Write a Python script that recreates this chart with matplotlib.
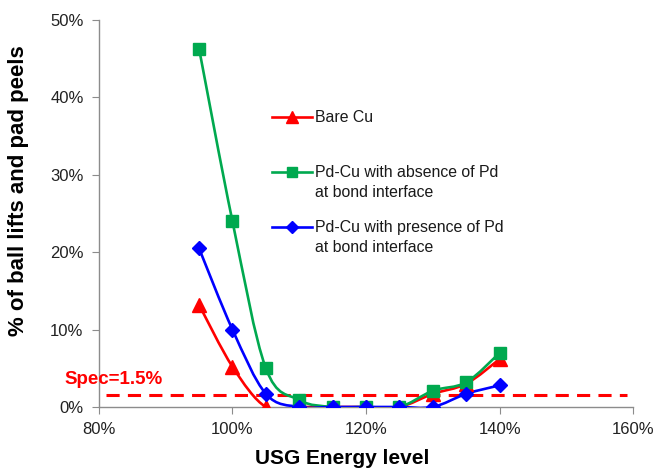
import matplotlib
matplotlib.use("Agg")
import matplotlib.pyplot as plt
import numpy as np
from matplotlib.path import Path
from matplotlib.patches import PathPatch
from matplotlib.lines import Line2D
from matplotlib.ticker import FuncFormatter

plt.rcParams['font.family'] = ['Liberation Sans', 'DejaVu Sans']

energy = [95, 100, 105, 110, 115, 120, 125, 130, 135, 140]
bare_cu = [13.2, 5.2, 0, 0, 0, 0, 0, 1.7, 3.0, 6.2]
pd_absence = [46.3, 24.0, 5.0, 0.9, 0, 0, 0, 2.1, 3.2, 7.0]
pd_presence = [20.5, 10.0, 1.7, 0, 0, 0, 0, 0, 1.7, 2.8]
spec_value = 1.5
spec_label = "Spec=1.5%"

series_labels = ["Bare Cu",
                 "Pd-Cu with absence of Pd\nat bond interface",
                 "Pd-Cu with presence of Pd\nat bond interface"]
x_ticks = [80, 100, 120, 140, 160]
y_ticks = [0, 10, 20, 30, 40, 50]

fig = plt.figure(figsize=(6.59, 4.76), dpi=100)
ax = fig.add_axes([0.150, 0.145, 0.811, 0.813])


def smooth_path(x, y):
    pts = np.column_stack([x, y]).astype(float)
    n = len(pts)
    verts = [pts[0]]
    codes = [Path.MOVETO]
    for i in range(n - 1):
        p0 = pts[i - 1] if i > 0 else pts[i]
        p1 = pts[i]
        p2 = pts[i + 1]
        p3 = pts[i + 2] if i + 2 < n else pts[i + 1]
        c1 = p1 + (p2 - p0) / 6.0
        c2 = p2 - (p3 - p1) / 6.0
        verts += [c1, c2, p2]
        codes += [Path.CURVE4] * 3
    return Path(verts, codes)


styles = [
    (bare_cu, '#FF0000', '^', 10, 8),
    (pd_absence, '#00A94F', 's', 8.5, 7),
    (pd_presence, '#0000FF', 'D', 7.5, 6.5),
]
# legend entry anchor (axes fraction y of first text line)
legend_y = [0.749, 0.607, 0.465]
for (vals, col, mk, ms, lms), lab, ly in zip(styles, series_labels, legend_y):
    patch = PathPatch(smooth_path(energy, vals), facecolor='none', edgecolor=col,
                      lw=1.9, transform=ax.transData, zorder=3)
    ax.add_patch(patch)
    ax.plot(energy, vals, linestyle='None', color=col, marker=mk, ms=ms,
            markeredgecolor=col, zorder=4)
    # legend handle
    ax.add_line(Line2D([0.324, 0.399], [ly, ly], transform=ax.transAxes, color=col,
                       lw=1.9, clip_on=False))
    ax.add_line(Line2D([0.3615], [ly], transform=ax.transAxes, color=col,
                       marker=mk, ms=lms, linestyle='None', clip_on=False))
    ax.text(0.4045, ly + 0.018, lab, transform=ax.transAxes, fontsize=11.4,
            color='#1a1a1a', ha='left', va='top', linespacing=1.38)

ax.plot([81, 159], [spec_value, spec_value], color='#FF0000', lw=2.2,
        dashes=(4.3, 2.7), zorder=2)
ax.text(74.9, 3.5, spec_label, color='#FF0000', fontsize=13.5,
        fontweight='bold', ha='left', va='center', clip_on=False)

ax.set_xlim(80, 160)
ax.set_ylim(0, 50)
ax.set_xticks(x_ticks)
ax.set_yticks(y_ticks)
ax.xaxis.set_major_formatter(FuncFormatter(lambda v, p: f"{v:.0f}%"))
ax.yaxis.set_major_formatter(FuncFormatter(lambda v, p: f"{v:.0f}%"))
for s in ['top', 'right']:
    ax.spines[s].set_visible(False)
for s in ['left', 'bottom']:
    ax.spines[s].set_color('#8C8C8C')
    ax.spines[s].set_linewidth(1.0)
ax.tick_params(axis='both', direction='out', length=5, color='#8C8C8C',
               labelsize=12, labelcolor='#222222', pad=6)

ax.set_xlabel("USG Energy level", fontsize=15, fontweight='bold', va='center')
ax.xaxis.set_label_coords(0.456, -0.132)
ax.set_ylabel("% of ball lifts and pad peels", fontsize=16, fontweight='bold',
              va='center')
ax.yaxis.set_label_coords(-0.150, 0.558)

fig.savefig("out.png", dpi=100)
